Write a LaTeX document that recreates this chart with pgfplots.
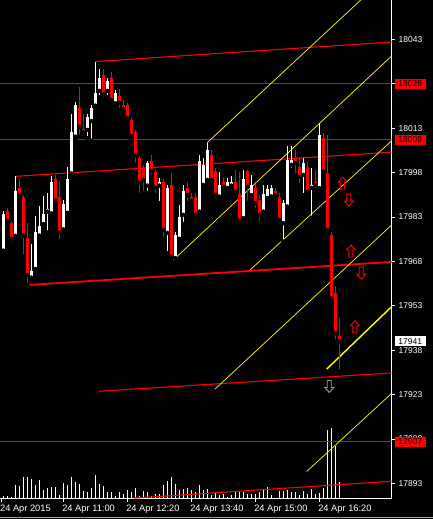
\documentclass[border=0pt]{standalone}
\usepackage{pgfplots}
\pgfplotsset{compat=1.18}
\usepackage{pgfplotstable}
\usepackage{fontspec}
\setmainfont{Liberation Sans}

\definecolor{mtred}{RGB}{255,0,0}
\definecolor{mtyel}{RGB}{255,255,0}

% 5 minute bars, index 0 = first bar on screen
\pgfplotstableread{
i o h l c
0 17971.6 17985.0 17971.5 17984.0
3 17976.6 17996.8 17975.6 17991.8
7 17962.5 17973.9 17962.1 17964.9
8 17965.4 17983.3 17964.8 17978.0
9 17976.7 17986.7 17975.9 17980.0
10 17980.6 17990.1 17980.0 17984.1
11 17984.8 17991.0 17977.7 17985.7
12 17984.2 17996.8 17983.7 17994.8
15 17978.8 17988.7 17978.3 17987.3
16 17984.4 17999.9 17983.7 17995.8
17 17997.7 18017.8 17997.2 18011.7
18 18010.1 18021.8 18009.3 18020.8
21 18012.4 18017.8 18009.6 18016.9
22 18015.4 18020.8 18008.7 18019.9
23 18020.6 18035.5 18019.8 18024.9
24 18025.6 18033.0 18023.5 18030.0
26 18025.6 18029.9 18023.5 18028.9
28 18021.4 18025.9 18020.5 18024.8
36 17993.6 18002.0 17991.1 18001.2
39 17993.6 17996.2 17987.7 17994.8
41 17977.6 17993.8 17970.8 17992.8
43 17969.1 17977.9 17967.8 17976.9
44 17975.6 17987.0 17974.5 17983.0
45 17983.7 17993.8 17980.6 17991.8
49 17984.8 18003.9 17984.0 18001.9
50 17993.8 18002.9 17992.8 18000.6
51 17995.5 18008.1 17994.5 18005.6
54 17989.9 17998.2 17988.7 17993.8
56 17992.8 17996.2 17991.8 17994.9
57 17993.6 17996.8 17992.8 17994.9
60 17982.6 17998.9 17981.6 17995.7
62 17990.4 17997.2 17989.4 17993.8
65 17984.8 17993.8 17984.0 17990.8
66 17989.4 17993.8 17988.1 17992.5
67 17989.9 17993.8 17988.7 17992.8
70 17980.9 17988.7 17974.7 17987.7
71 17986.5 18007.0 17985.4 18002.3
72 18000.6 18007.0 17998.9 18002.3
75 17997.2 18002.9 17990.4 18001.2
77 17992.8 17999.5 17982.7 17993.8
79 17992.7 18014.9 17992.1 18010.7
}\bull

\pgfplotstableread{
i o h l c
1 17985.1 17986.0 17981.3 17981.7
2 17981.1 17981.6 17973.8 17975.6
4 17992.8 17995.8 17989.8 17990.4
5 17989.8 17990.4 17969.6 17976.7
6 17976.0 17981.1 17960.0 17963.4
13 17995.8 17997.2 17987.7 17988.5
14 17989.8 17995.2 17974.7 17977.7
19 18019.9 18027.0 18010.1 18013.5
20 18012.7 18017.8 18010.4 18011.6
25 18031.0 18033.0 18022.6 18024.4
27 18030.0 18032.0 18021.6 18022.5
29 18023.9 18026.2 18019.1 18021.6
30 18020.8 18022.5 18018.5 18019.5
31 18020.8 18021.5 18015.4 18016.3
32 18015.8 18016.8 18009.3 18010.4
33 18011.6 18012.4 18000.6 18003.7
34 18002.8 18003.6 17990.4 17994.6
35 17999.5 18000.6 17991.1 17995.5
37 18001.9 18003.9 17996.5 17998.5
38 17998.2 17998.9 17990.4 17992.8
40 17994.8 17995.8 17975.6 17978.6
42 17993.8 17997.9 17967.9 17969.6
46 17992.8 17994.8 17987.7 17990.4
47 17989.9 17991.1 17987.7 17988.5
48 17989.9 17991.1 17982.7 17983.7
52 18003.9 18005.6 17993.8 17995.5
53 17998.5 17999.5 17988.7 17990.4
55 17994.9 17996.5 17992.1 17993.2
58 17994.9 17998.9 17990.4 17991.5
59 17990.8 17998.2 17980.3 17981.7
61 17998.6 17998.9 17987.7 17993.2
63 17992.8 17994.1 17985.4 17987.7
64 17988.7 17990.4 17981.0 17983.7
68 17991.9 17992.8 17989.4 17990.4
69 17989.9 17991.1 17980.9 17982.0
73 18002.9 18005.6 17997.2 18001.2
74 18000.0 18003.4 17993.8 17996.6
76 18000.0 18001.6 17990.4 17991.5
78 17994.9 17998.9 17992.1 17993.8
80 18009.7 18011.4 17997.2 17998.3
81 17997.7 18010.7 17977.9 17978.6
82 17976.9 17978.0 17954.4 17955.5
83 17957.2 17959.5 17940.9 17943.7
84 17942.8 17948.9 17930.7 17941.0
}\bear

\pgfplotstableread{
i v
0 3
1 3
2 2
3 14
4 13
5 22
6 22
7 20
8 14
9 19
10 9
11 11
12 12
13 12
14 4
15 16
16 14
17 22
18 17
19 15
20 8
21 7
22 11
23 24
24 15
25 13
26 7
27 7
28 3
29 7
30 5
31 9
32 7
33 11
34 3
35 8
36 7
37 3
38 5
39 5
40 14
41 18
42 22
43 15
44 9
45 10
46 11
47 9
48 7
49 14
50 9
51 10
52 4
53 7
54 4
55 5
56 2
57 4
58 7
59 7
60 7
61 5
62 5
63 5
64 7
65 9
66 12
67 4
68 1
69 8
70 8
71 9
72 7
73 7
74 4
75 8
76 5
77 10
78 5
79 6
80 11
81 69
82 71
83 53
84 17
}\vol

\pgfdeclareplotmark{uparr}{%
  \pgfpathmoveto{\pgfqpoint{0pt}{6pt}}%
  \pgfpathlineto{\pgfqpoint{4.5pt}{1pt}}%
  \pgfpathlineto{\pgfqpoint{2pt}{1pt}}%
  \pgfpathlineto{\pgfqpoint{2pt}{-6pt}}%
  \pgfpathlineto{\pgfqpoint{-2pt}{-6pt}}%
  \pgfpathlineto{\pgfqpoint{-2pt}{1pt}}%
  \pgfpathlineto{\pgfqpoint{-4.5pt}{1pt}}%
  \pgfpathclose\pgfusepathqstroke}
\pgfdeclareplotmark{dnarr}{%
  \pgfpathmoveto{\pgfqpoint{0pt}{-6pt}}%
  \pgfpathlineto{\pgfqpoint{4.5pt}{-1pt}}%
  \pgfpathlineto{\pgfqpoint{2pt}{-1pt}}%
  \pgfpathlineto{\pgfqpoint{2pt}{6pt}}%
  \pgfpathlineto{\pgfqpoint{-2pt}{6pt}}%
  \pgfpathlineto{\pgfqpoint{-2pt}{-1pt}}%
  \pgfpathlineto{\pgfqpoint{-4.5pt}{-1pt}}%
  \pgfpathclose\pgfusepathqstroke}

\pgfplotsset{
  candle/.style={forget plot, only marks, mark=none,
    error bars/.cd, y dir=plus, y explicit, error mark=none,
    error bar style={draw=#1, line width=1pt}},
  body/.style={forget plot, only marks, mark=none,
    error bars/.cd, y dir=plus, y explicit, error mark=none,
    error bar style={draw=#1, line width=3pt}},
}

\newcommand{\lbl}{\fontsize{8.5}{10}\selectfont}
\newcommand{\xlbl}{\fontsize{9.3}{11}\selectfont}

\begin{document}
\begin{tikzpicture}
\fill[black] (0,0) rectangle (433pt,519pt);
\useasboundingbox (0,0) rectangle (433pt,519pt);
\draw[gray!70, line width=0.8pt] (0,1.8pt) -- (433pt,1.8pt);

% volumes, bottom of the window
\begin{axis}[at={(0pt,20.3pt)}, anchor=south west, scale only axis,
  width=391.7pt, height=498.7pt, xmin=-0.825, xmax=97.1, ymin=0, ymax=498.7,
  hide axis]
\addplot[ycomb, white, line width=1pt, mark=none] table[x=i, y=v] {\vol};
\end{axis}

\begin{axis}[at={(0pt,20.3pt)}, anchor=south west, scale only axis,
  width=391.7pt, height=498.7pt,
  xmin=-0.825, xmax=97.1, ymin=17887.8, ymax=18056.3,
  axis x line*=bottom, axis y line*=right,
  axis line style={white, line width=0.8pt},
  tick align=outside, major tick length=3.5pt,
  tick style={white, line width=0.8pt},
  /pgf/number format/assume math mode=true,
  xtick={-0.55,15,31,47,63,79},
  xticklabels={24 Apr 2015, 24 Apr 11:00, 24 Apr 12:20, 24 Apr 13:40, 24 Apr 15:00, 24 Apr 16:20},
  xticklabel style={anchor=north west, inner xsep=0pt, xshift=-1.2pt, yshift=1pt, text=white, font=\xlbl},
  ytick={17893,17908,17923,17938,17953,17968,17983,17998,18013,18028,18043},
  yticklabels={17893,17908,17923,17938,17953,17968,17983,17998,18013,18028,18043},
  yticklabel style={anchor=west, text=white, font=\lbl},
]
% horizontal levels
\addplot[mtred, line width=1pt] coordinates {(-1,18028) (98,18028)};
\addplot[mtred, line width=1pt] coordinates {(-1,18009) (98,18009)};
\addplot[mtred, line width=1pt] coordinates {(-1,17907) (98,17907)};
% channel lines
\addplot[mtred, line width=1.1pt] coordinates {(23.0,18035.5) (97.1,18042.1)};
\addplot[mtred, line width=1.1pt] coordinates {(2.9,17996.7) (97.1,18004.9)};
\addplot[mtred, line width=1.8pt] coordinates {(6.0,17960.0) (97.1,17967.8)};
\addplot[mtred, line width=1.1pt] coordinates {(23.9,17924.1) (97.1,17930.3)};
\addplot[mtred, line width=1.1pt] coordinates {(32.7,17888.0) (97.1,17893.7)};
% fan lines
\addplot[mtyel, line width=0.7pt] coordinates {(51.0,18008.1) (92.0,18059.6)};
\addplot[mtyel, line width=0.7pt] coordinates {(41.9,17967.7) (97.1,18037.4)};
\addplot[mtyel, line width=0.7pt] coordinates {(61.7,17965.1) (97.1,18008.7)};
\addplot[mtyel, line width=0.7pt] coordinates {(52.9,17924.8) (97.1,17980.3)};
\addplot[mtyel, line width=1.4pt] coordinates {(80.85,17931.6) (97.1,17952.7)};
\addplot[mtyel, line width=0.7pt] coordinates {(75.85,17897.0) (97.1,17923.4)};
% candles
\addplot[candle=white] table[x=i, y=l, y error plus expr=\thisrow{h}-\thisrow{l}] {\bull};
\addplot[body=white] table[x=i, y=o, y error plus expr=\thisrow{c}-\thisrow{o}] {\bull};
\addplot[candle=mtred] table[x=i, y=l, y error plus expr=\thisrow{h}-\thisrow{l}] {\bear};
\addplot[body=mtred] table[x=i, y=c, y error plus expr=\thisrow{o}-\thisrow{c}] {\bear};
% signal arrows
\addplot[only marks, mark=uparr, mtred, line width=0.9pt] coordinates {(84.85,17994.4) (86.9,17971.5) (87.9,17945.9)};
\addplot[only marks, mark=dnarr, mtred, line width=0.9pt] coordinates {(86.4,17988.7) (89.5,17964.0)};
\addplot[only marks, mark=dnarr, gray!80, line width=0.9pt] coordinates {(81.5,17925.7)};
\coordinate (pa) at (axis cs:97.1,18028);
\coordinate (pb) at (axis cs:97.1,18009);
\coordinate (pc) at (axis cs:97.1,17907);
\coordinate (pd) at (axis cs:97.1,17941);
\end{axis}

\tikzset{pricebox/.style={anchor=west, font=\lbl, inner xsep=3.5pt, inner ysep=0pt,
  minimum height=10pt, text=black}}
\node[pricebox, fill=mtred] at ([xshift=3pt]pa) {18028};
\node[pricebox, fill=mtred] at ([xshift=3pt]pb) {18009};
\node[pricebox, fill=mtred] at ([xshift=3pt]pc) {17907};
\node[pricebox, fill=white] at ([xshift=3pt]pd) {17941};
\end{tikzpicture}
\end{document}
